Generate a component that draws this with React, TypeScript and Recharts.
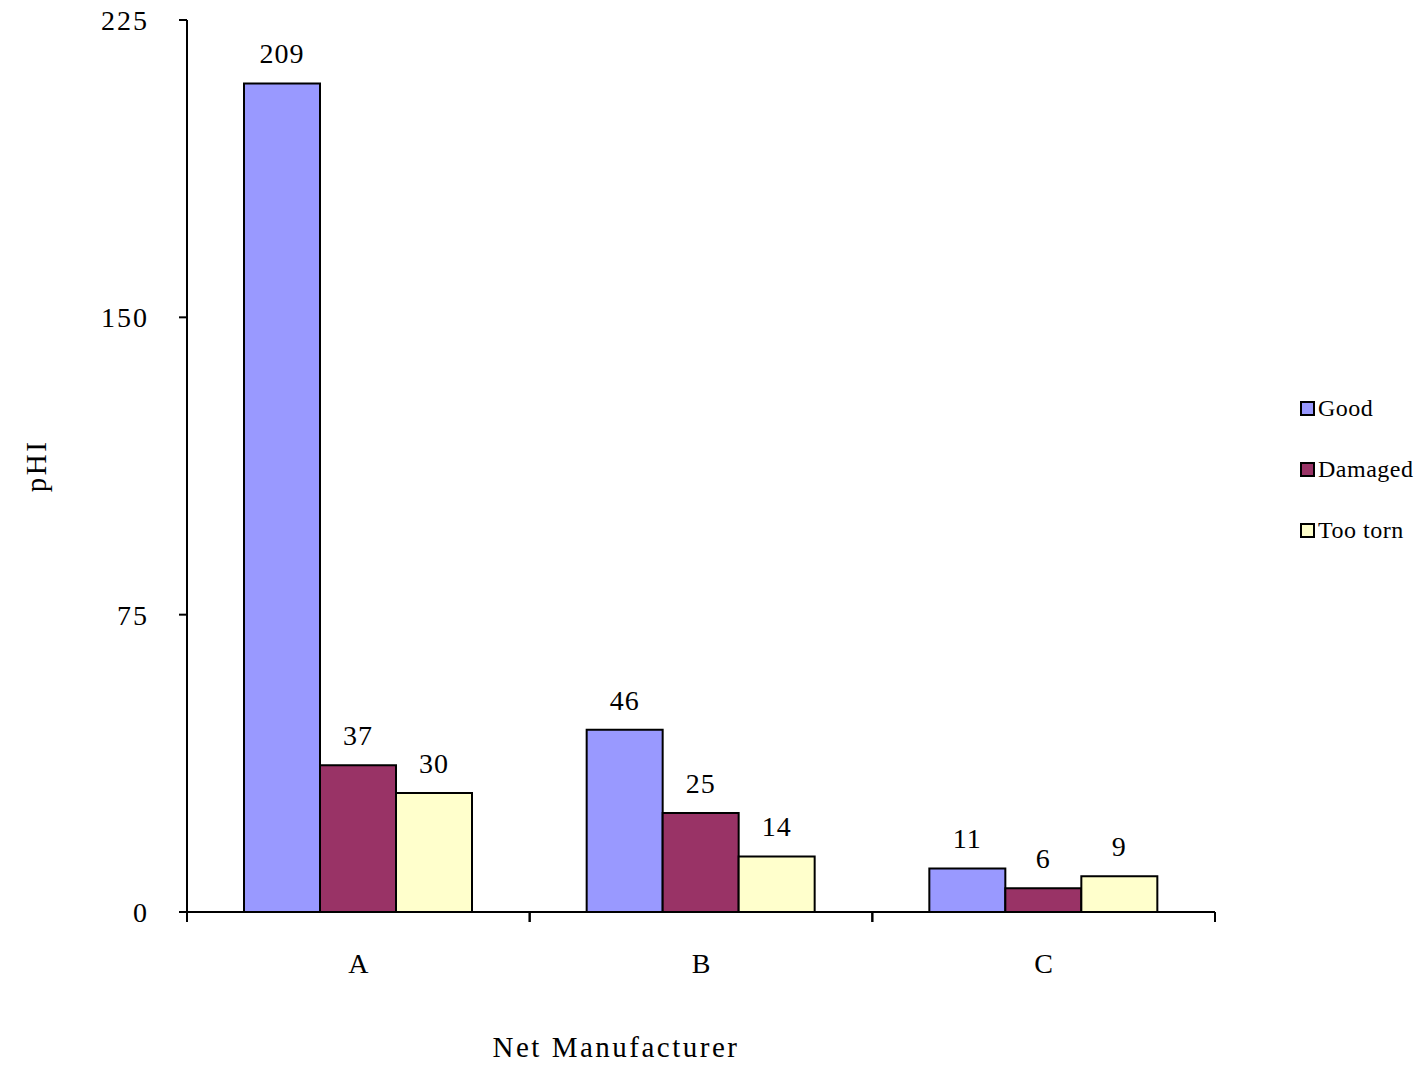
import { BarChart, Bar, XAxis, YAxis, LabelList, Label } from 'recharts';

const categories = ['A', 'B', 'C'];
const good = [209, 46, 11];
const damaged = [37, 25, 6];
const tooTorn = [30, 14, 9];
const yTicks = [0, 75, 150, 225];

const series = [
    { key: 'good', name: 'Good', color: '#9999FF' },
    { key: 'damaged', name: 'Damaged', color: '#993366' },
    { key: 'tooTorn', name: 'Too torn', color: '#FFFFCC' },
];

const data = categories.map((c, i) => ({
    name: c,
    good: good[i],
    damaged: damaged[i],
    tooTorn: tooTorn[i],
}));

const W = 1418;
const H = 1069;
const M = { top: 20, right: 203, left: 0, bottom: 0 };
const Y_W = 187;
const BAND = (W - M.right - Y_W) / categories.length;
const FONT = '"Liberation Serif", "Times New Roman", serif';

function XTick(props: any) {
    const { x, y, payload } = props;
    return (
        <g>
            <line x1={x - BAND / 2} y1={y} x2={x - BAND / 2} y2={y + 10} stroke="#000" strokeWidth={2} />
            <line x1={x + BAND / 2} y1={y} x2={x + BAND / 2} y2={y + 10} stroke="#000" strokeWidth={2} />
            <text x={x} y={y + 61} textAnchor="middle" fontFamily={FONT} fontSize={28} fill="#000">
                {payload.value}
            </text>
        </g>
    );
}

function LegendBox() {
    return (
        <div
            style={{
                position: 'absolute',
                left: 1300,
                top: 378,
                fontFamily: FONT,
                fontSize: 24,
                letterSpacing: 0.5,
                color: '#000',
            }}
        >
            {series.map((s) => (
                <div key={s.key} style={{ display: 'flex', alignItems: 'center', height: 61 }}>
                    <span
                        style={{
                            display: 'inline-block',
                            width: 11,
                            height: 11,
                            background: s.color,
                            border: '2px solid #000',
                            marginRight: 3,
                        }}
                    />
                    {s.name}
                </div>
            ))}
        </div>
    );
}

export default function App() {
    return (
        <div style={{ position: 'absolute', left: 0, top: 0, width: W, height: H, background: '#fff' }}>
            <BarChart width={W} height={H} data={data} margin={M} barGap={0} barSize={76}>
                <XAxis
                    dataKey="name"
                    height={H - 912}
                    tickLine={false}
                    tickSize={0}
                    tickMargin={0}
                    tick={<XTick />}
                    axisLine={{ stroke: '#000', strokeWidth: 2 }}
                >
                    <Label
                        value="Net Manufacturer"
                        position="insideBottom"
                        offset={12}
                        dx={-85}
                        style={{ fontFamily: FONT, fontSize: 29, letterSpacing: 2.5, fill: '#000' }}
                    />
                </XAxis>
                <YAxis
                    width={Y_W}
                    domain={[0, 225]}
                    ticks={yTicks}
                    interval={0}
                    tickSize={8}
                    tickMargin={30}
                    tick={{ fontFamily: FONT, fontSize: 28, letterSpacing: 2, fill: '#000' }}
                    tickLine={{ stroke: '#000', strokeWidth: 2 }}
                    axisLine={{ stroke: '#000', strokeWidth: 2 }}
                >
                    <Label
                        value="pHI"
                        angle={-90}
                        position="center"
                        dx={-58}
                        style={{ fontFamily: FONT, fontSize: 29, letterSpacing: 2.5, fill: '#000', textAnchor: 'middle' }}
                    />
                </YAxis>
                {series.map((s) => (
                    <Bar
                        key={s.key}
                        dataKey={s.key}
                        name={s.name}
                        fill={s.color}
                        stroke="#000"
                        strokeWidth={2}
                        isAnimationActive={false}
                    >
                        <LabelList
                            dataKey={s.key}
                            position="top"
                            offset={20}
                            style={{ fontFamily: FONT, fontSize: 28, letterSpacing: 1, fill: '#000' }}
                        />
                    </Bar>
                ))}
            </BarChart>
            <LegendBox />
        </div>
    );
}
